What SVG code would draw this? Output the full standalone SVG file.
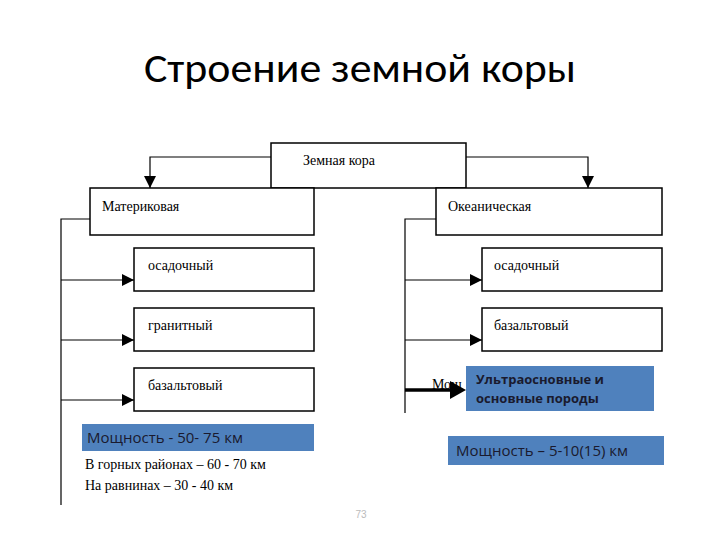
<svg xmlns="http://www.w3.org/2000/svg" width="720" height="540" viewBox="0 0 720 540">
<style>
.b{fill:#fff;stroke:#000;stroke-width:1.5}
.t{font-family:"Liberation Serif",serif;font-size:14px}
.c{fill:none;stroke:#000;stroke-width:1.2}
.blue{fill:#4f81bd}
.s{font-family:"Open Sans","Noto Sans",sans-serif;fill:#1a1a2e}
</style>
<defs><marker id="a2" viewBox="0 0 10 10" refX="10" refY="5" markerWidth="12" markerHeight="12" orient="auto" markerUnits="userSpaceOnUse"><path d="M0,0L10,5L0,10z"/></marker></defs>
<rect width="720" height="540" fill="#fff"/>
<text x="360" y="82" text-anchor="middle" font-family="Calibri,'Liberation Sans',sans-serif" font-size="40" textLength="432" lengthAdjust="spacingAndGlyphs">Строение земной коры</text>
<g id="connectors">
<path class="c" d="M271,157H150V188" marker-end="url(#a2)"/>
<path class="c" d="M466,157H588V188" marker-end="url(#a2)"/>
<path class="c" d="M90,219H61V505" stroke-width="2"/>
<path class="c" d="M61,280H134" marker-end="url(#a2)"/>
<path class="c" d="M61,340H134" marker-end="url(#a2)"/>
<path class="c" d="M61,400H134" stroke-width="2" marker-end="url(#a2)"/>
<path class="c" d="M436,219H405V413" stroke-width="2"/>
<path class="c" d="M405,280H482" marker-end="url(#a2)"/>
<path class="c" d="M405,340H482" marker-end="url(#a2)"/>
<text class="t" x="432" y="389">Мощ</text>
<path d="M405,390H452" stroke="#000" stroke-width="3.5"/>
<path d="M450,381L466,390L450,399z"/>
</g>
<g id="zk"><rect class="b" x="271" y="143" width="195" height="45"/><text class="t" x="303" y="165">Земная кора</text></g>
<g id="mat"><rect class="b" x="90" y="188" width="224" height="47"/><text class="t" x="102" y="211">Материковая</text></g>
<g id="ok"><rect class="b" x="436" y="188" width="226" height="47"/><text class="t" x="448" y="211">Океаническая</text></g>
<g id="m1"><rect class="b" x="134" y="248" width="180" height="43"/><text class="t" x="148" y="270">осадочный</text></g>
<g id="m2"><rect class="b" x="134" y="308" width="180" height="43"/><text class="t" x="148" y="330">гранитный</text></g>
<g id="m3"><rect class="b" x="134" y="368" width="180" height="43"/><text class="t" x="148" y="390">базальтовый</text></g>
<g id="o1"><rect class="b" x="482" y="248" width="180" height="43"/><text class="t" x="494" y="270">осадочный</text></g>
<g id="o2"><rect class="b" x="482" y="308" width="180" height="43"/><text class="t" x="494" y="330">базальтовый</text></g>
<g id="ultra"><rect class="blue" x="466" y="366" width="188" height="45"/><text class="s" x="476" y="384" font-size="13" font-weight="bold">Ультраосновные и</text><text class="s" x="476" y="403" font-size="13" font-weight="bold">основные породы</text></g>
<g id="mL"><rect class="blue" x="82" y="424" width="232" height="27"/><text class="s" x="87" y="443" font-size="15">Мощность - 50- 75 км</text></g>
<text class="t" x="85" y="469" font-size="16">В горных районах – 60 - 70 км</text>
<text class="t" x="85" y="490" font-size="16">На равнинах – 30 - 40 км</text>
<g id="mR"><rect class="blue" x="448" y="436" width="216" height="29"/><text class="s" x="456" y="456" font-size="15">Мощность – 5-10(15) км</text></g>
<text x="361" y="518" text-anchor="middle" font-family="'Liberation Sans',sans-serif" font-size="10" fill="#bbb">73</text>
</svg>
